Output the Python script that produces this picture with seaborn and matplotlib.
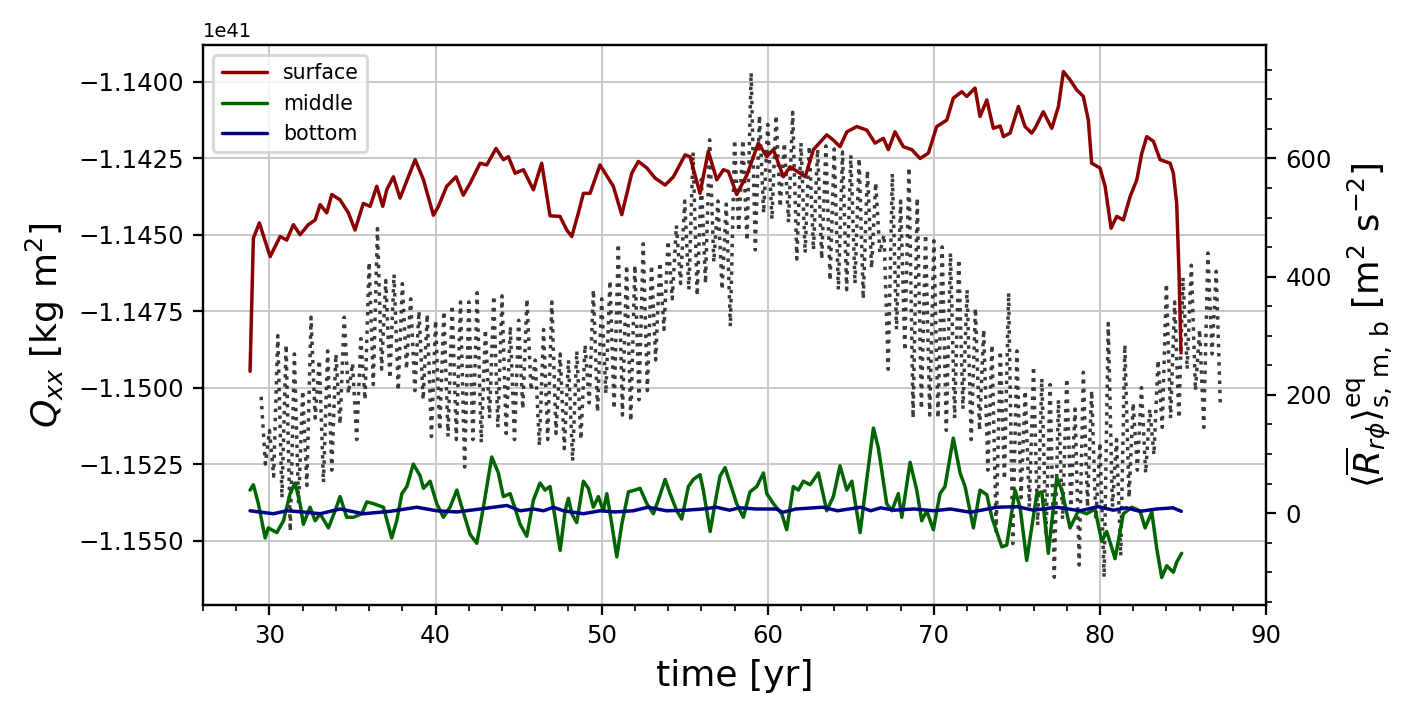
import numpy as np
import matplotlib
matplotlib.use("Agg")
import matplotlib.pyplot as plt
import seaborn as sns
from matplotlib.ticker import MultipleLocator

# ---------------- data ----------------
# Q_xx (left axis, units of 1e41 kg m^2), sampled every 0.25 yr from 29.5 yr
qxx_start = 29.5
qxx_step = 0.25
qxx = [
    -1.1503, -1.1525, -1.1514, -1.1529, -1.1483, -1.1536, -1.1486, -1.1547,
    -1.1489, -1.1538, -1.1501, -1.1532, -1.1477, -1.1510, -1.1491, -1.1531,
    -1.1488, -1.1527, -1.1489, -1.1512, -1.1477, -1.1502, -1.1492, -1.1517,
    -1.1484, -1.1504, -1.1459, -1.1499, -1.1448, -1.1494, -1.1465, -1.1497,
    -1.1463, -1.1501, -1.1466, -1.1494, -1.1471, -1.1501, -1.1475, -1.1504,
    -1.1476, -1.1516, -1.1478, -1.1514, -1.1475, -1.1516, -1.1473, -1.1517,
    -1.1472, -1.1526, -1.1472, -1.1517, -1.1469, -1.1518, -1.1481, -1.1510,
    -1.1470, -1.1513, -1.1470, -1.1515, -1.1480, -1.1517, -1.1478, -1.1507,
    -1.1471, -1.1501, -1.1491, -1.1519, -1.1481, -1.1517, -1.1472, -1.1515,
    -1.1489, -1.1520, -1.1491, -1.1524, -1.1488, -1.1517, -1.1486, -1.1505,
    -1.1468, -1.1508, -1.1471, -1.1502, -1.1465, -1.1507, -1.1453, -1.1509,
    -1.1460, -1.1511, -1.1460, -1.1504, -1.1453, -1.1501, -1.1460, -1.1491,
    -1.1459, -1.1481, -1.1452, -1.1471, -1.1447, -1.1466, -1.1439, -1.1468,
    -1.1423, -1.1470, -1.1432, -1.1466, -1.1419, -1.1459, -1.1439, -1.1468,
    -1.1440, -1.1480, -1.1419, -1.1449, -1.1419, -1.1452, -1.1397, -1.1455,
    -1.1411, -1.1443, -1.1414, -1.1445, -1.1411, -1.1441, -1.1420, -1.1446,
    -1.1410, -1.1458, -1.1420, -1.1456, -1.1421, -1.1455, -1.1422, -1.1458,
    -1.1421, -1.1465, -1.1422, -1.1468, -1.1423, -1.1468, -1.1424, -1.1466,
    -1.1425, -1.1471, -1.1429, -1.1461, -1.1433, -1.1456, -1.1450, -1.1494,
    -1.1430, -1.1481, -1.1439, -1.1488, -1.1428, -1.1510, -1.1438, -1.1507,
    -1.1450, -1.1509, -1.1452, -1.1510, -1.1454, -1.1514, -1.1456, -1.1510,
    -1.1458, -1.1507, -1.1468, -1.1517, -1.1474, -1.1514, -1.1481, -1.1527,
    -1.1486, -1.1547, -1.1488, -1.1530, -1.1469, -1.1551, -1.1488, -1.1536,
    -1.1501, -1.1539, -1.1493, -1.1545, -1.1497, -1.1548, -1.1499, -1.1562,
    -1.1504, -1.1543, -1.1497, -1.1539, -1.1507, -1.1558, -1.1495, -1.1539,
    -1.1501, -1.1543, -1.1518, -1.1562, -1.1479, -1.1539, -1.1517, -1.1555,
    -1.1486, -1.1536, -1.1505, -1.1527, -1.1500, -1.1528, -1.1507, -1.1522,
    -1.1491, -1.1513, -1.1466, -1.1510, -1.1472, -1.1510, -1.1464, -1.1494,
    -1.1460, -1.1501, -1.1481, -1.1513, -1.1456, -1.1489, -1.1462, -1.1506,
]
qxx_scale = 1e41

# surface (right axis)
surf_t = [28.83, 29.03, 29.39, 30.04, 30.64, 31.04, 31.44, 31.84, 32.34, 32.75,
          33.05, 33.45, 33.75, 34.25, 34.75, 35.15, 35.65, 36.06, 36.46, 36.82,
          37.06, 37.46, 37.86, 38.36, 38.77, 39.27, 39.87, 40.17, 40.67, 41.23,
          41.67, 42.08, 42.68, 43.08, 43.64, 44.08, 44.38, 44.79, 45.29, 45.89,
          46.39, 46.89, 47.49, 47.9, 48.2, 48.6, 48.9, 49.3, 49.9, 50.7,
          51.21, 51.81, 52.21, 52.72, 53.21, 53.82, 54.32, 55.02, 55.32, 55.92,
          56.42, 56.93, 57.33, 57.63, 58.13, 58.74, 59.43, 59.94, 60.34, 60.94,
          61.34, 61.94, 62.25, 62.75, 63.55, 63.95, 64.35, 64.76, 65.36, 65.96,
          66.46, 66.96, 67.26, 67.66, 68.16, 68.67, 69.17, 69.67, 70.17, 70.78,
          71.17, 71.68, 71.98, 72.48, 72.78, 73.19, 73.58, 73.99, 74.19, 74.59,
          75.09, 75.49, 75.89, 76.09, 76.59, 77.1, 77.5, 77.8, 78.2, 78.6,
          79.0, 79.3, 79.5, 80.0, 80.31, 80.67, 81.01, 81.41, 81.82, 82.22,
          82.52, 82.82, 83.22, 83.62, 84.22, 84.42, 84.62, 84.76, 84.88]
surf_r = [240, 465, 491, 434, 468, 462, 488, 471, 488, 496,
          522, 508, 539, 530, 508, 479, 524, 519, 553, 519,
          547, 569, 533, 569, 598, 564, 504, 519, 553, 569,
          538, 558, 592, 589, 617, 598, 603, 575, 581, 547,
          592, 503, 502, 479, 468, 508, 541, 541, 589, 553,
          505, 575, 595, 584, 567, 555, 569, 606, 603, 541,
          612, 564, 581, 578, 539, 572, 626, 603, 615, 569,
          586, 575, 569, 615, 640, 631, 620, 645, 654, 648,
          626, 634, 615, 645, 620, 615, 600, 609, 654, 665,
          702, 713, 705, 719, 671, 699, 651, 655, 637, 643,
          688, 654, 643, 651, 679, 651, 688, 747, 733, 716,
          705, 665, 592, 584, 553, 482, 502, 496, 536, 564,
          609, 637, 629, 598, 592, 575, 524, 407, 271]

# middle (right axis)
mid_t = [28.83, 29.03, 29.33, 29.74, 29.93, 30.44, 30.84, 31.24, 31.54, 31.84,
         32.04, 32.44, 32.75, 33.05, 33.55, 33.95, 34.25, 34.65, 35.05, 35.56,
         35.86, 36.26, 36.86, 37.36, 37.66, 37.97, 38.27, 38.66, 39.07, 39.27,
         39.67, 40.07, 40.47, 40.87, 41.28, 41.58, 42.08, 42.48, 42.88, 43.38,
         43.78, 44.08, 44.49, 44.89, 45.09, 45.49, 45.89, 46.29, 46.59, 46.89,
         47.19, 47.5, 47.8, 48.0, 48.2, 48.5, 48.9, 49.2, 49.5, 49.8,
         50.1, 50.31, 50.61, 50.91, 51.21, 51.61, 52.01, 52.31, 52.72, 53.11,
         53.41, 53.82, 54.12, 54.52, 54.82, 55.22, 55.52, 55.92, 56.12, 56.53,
         56.93, 57.13, 57.43, 57.73, 58.13, 58.53, 58.93, 59.34, 59.74, 59.94,
         60.34, 60.84, 61.14, 61.54, 61.84, 62.14, 62.55, 63.05, 63.55, 63.95,
         64.35, 64.76, 65.06, 65.56, 65.96, 66.36, 66.66, 67.16, 67.47, 67.86,
         68.07, 68.57, 68.97, 69.27, 69.57, 69.97, 70.37, 70.67, 71.17, 71.58,
         71.88, 72.38, 72.78, 73.19, 73.49, 74.09, 74.39, 74.89, 75.19, 75.59,
         76.2, 76.5, 76.89, 77.4, 77.7, 78.2, 78.7, 79.2, 79.7, 80.11,
         80.41, 80.91, 81.41, 81.91, 82.41, 82.72, 83.12, 83.42, 83.72, 84.02,
         84.42, 84.62, 84.92]
mid_r = [39, 48, 16, -42, -25, -33, -13, 33, 51, 16,
         -19, 10, -13, -1, -25, 4, 28, -7, -7, -1,
         19, 16, 10, -42, -13, 33, 45, 83, 63, 42,
         54, 16, -7, 10, 39, 10, -36, -51, 10, 95,
         68, 28, 33, -1, -19, -39, 22, 51, 39, 45,
         -7, -63, 4, 25, -1, -16, 54, 42, 10, 28,
         4, 33, -19, -74, -19, 36, 39, 42, 16, -1,
         22, 57, 33, 4, -10, 45, 57, 65, 39, -31,
         33, 63, 77, 51, 16, -7, 36, 45, 68, 33,
         16, -1, -28, 45, 39, 54, 48, 68, 4, 28,
         80, 39, 54, -33, 57, 144, 110, 16, 4, 33,
         -7, 86, 39, -13, 4, -28, 33, 45, 127, 68,
         45, -25, 39, 31, -7, -57, -54, 39, 10, -80,
         33, 36, -68, 60, 39, -25, 4, -1, 7, -48,
         -31, -77, -1, 10, 4, -25, 2, -60, -109, -89,
         -100, -83, -68]

# bottom (right axis)
bot_t = [28.83, 30.23, 31.04, 32.0, 33.05, 34.25, 35.65, 37.26, 38.87, 40.07,
         41.28, 42.68, 44.29, 45.1, 45.9, 46.5, 47.1, 47.7, 48.9, 49.9,
         50.8, 51.9, 52.8, 53.9, 55.1, 56.1, 56.9, 57.7, 58.3, 59.3,
         60.5, 60.9, 61.7, 63.3, 64.2, 65.6, 66.2, 66.8, 67.6, 68.8,
         70.0, 71.0, 72.2, 73.8, 75.0, 76.0, 77.4, 78.8, 79.9, 80.8,
         81.6, 82.4, 83.4, 84.4, 84.9]
bot_r = [4, -1, 4, 2, -1, 7, -1, 3, 10, 4,
         2, 7, 13, 4, 7, 4, 10, 4, -1, 4,
         2, 4, 10, 4, 5, 7, 10, 5, 9, 7,
         7, 1.5, 7, 10, 4, 10, 4, 9, 5, 7,
         4, 7, 1.5, 10, 11, 5, 10, 4, 11, 5,
         9, 3, 7, 9, 3]

series_names = ["surface", "middle", "bottom"]
series_colors = ["#8b0000", "#006400", "#00008b"]

# ---------------- plot ----------------
sns.set_theme(style="ticks")
plt.rcParams["font.family"] = ["DejaVu Sans"]
plt.rcParams["mathtext.fontset"] = "dejavusans"
plt.rcParams.update({
    "axes.edgecolor": "black", "axes.linewidth": 0.8,
    "xtick.color": "black", "ytick.color": "black",
    "xtick.major.size": 3.5, "ytick.major.size": 3.5,
    "xtick.minor.size": 2.0, "ytick.minor.size": 2.0,
    "xtick.major.width": 0.8, "ytick.major.width": 0.8,
    "xtick.minor.width": 0.6, "ytick.minor.width": 0.6,
    "axes.labelcolor": "black", "text.color": "black",
})

fig, ax = plt.subplots(figsize=(7.065, 3.57), dpi=200)
fig.subplots_adjust(left=0.1437, right=0.896, top=0.937, bottom=0.153)

qxx_t = qxx_start + qxx_step * np.arange(len(qxx))
sns.lineplot(x=qxx_t, y=np.array(qxx) * qxx_scale, ax=ax, color="#262626", alpha=0.9,
             linestyle=":", linewidth=1.25, estimator=None, sort=False)

ax.set_xlim(26, 90)
ax.set_ylim(-1.1571e41, -1.1388e41)
ax.xaxis.set_major_locator(MultipleLocator(10))
ax.xaxis.set_minor_locator(MultipleLocator(2))
ax.yaxis.set_major_locator(MultipleLocator(0.0025e41))
ax.ticklabel_format(axis="y", style="sci", useOffset=False)
ax.yaxis.get_offset_text().set_fontsize(7)
ax.grid(True, which="major", color="#c8c8c8", linewidth=0.7)
ax.tick_params(labelsize=8.8)
ax.set_xlabel("time [yr]", fontsize=13)
ax.set_ylabel(r"$Q_{xx}$ [kg m$^2$]", fontsize=13)

ax2 = ax.twinx()
for t, r, name, col in zip([surf_t, mid_t, bot_t], [surf_r, mid_r, bot_r],
                           series_names, series_colors):
    sns.lineplot(x=t, y=r, ax=ax2, color=col, linewidth=1.25, label=name,
                 estimator=None, sort=False)
ax2.set_ylim(-155, 792)
ax2.yaxis.set_major_locator(MultipleLocator(200))
ax2.yaxis.set_minor_locator(MultipleLocator(50))
ax2.tick_params(labelsize=8.8)
ax2.set_ylabel(r"$\langle \overline{R}_{r\phi} \rangle^{\mathrm{eq}}_{\mathrm{s,\,m,\,b}}$ [m$^2$ s$^{-2}$]",
               fontsize=12.8)
ax2.legend(loc="upper left", fontsize=7.4, handlelength=2.2, frameon=True,
           framealpha=0.8, edgecolor="0.8", fancybox=True)

fig.savefig("out.png", dpi=200)
